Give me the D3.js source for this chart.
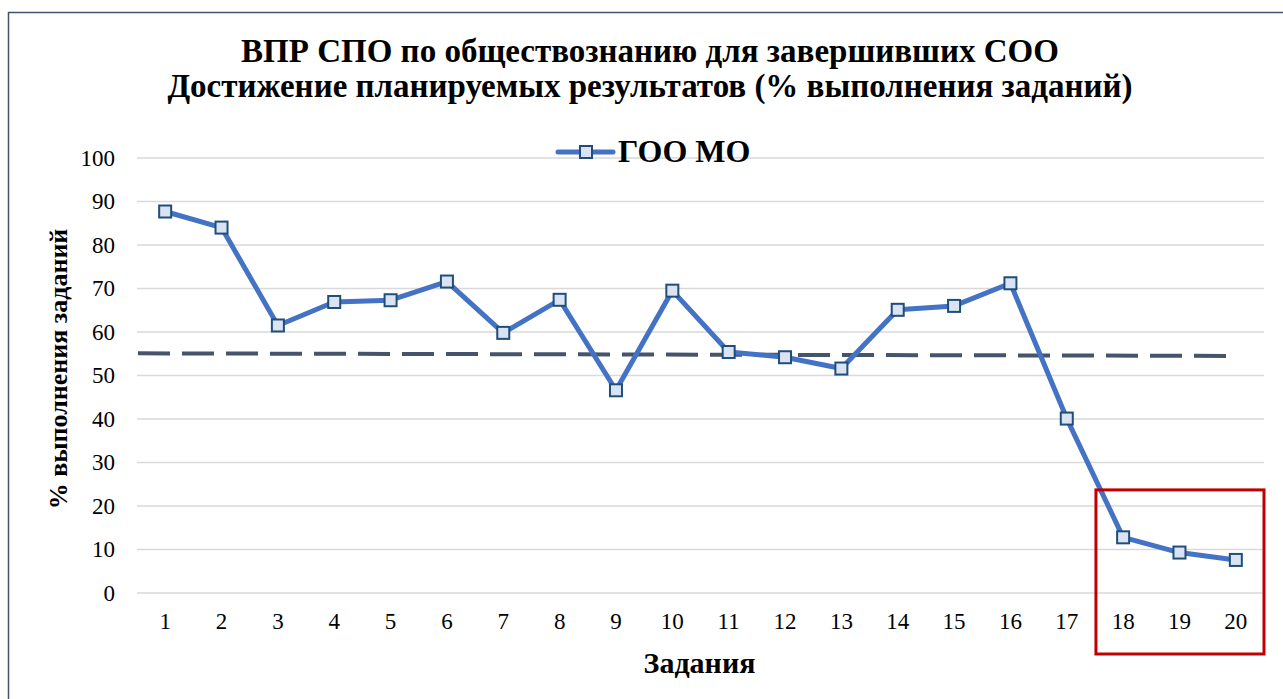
<!DOCTYPE html>
<html>
<head>
<meta charset="utf-8">
<script src="https://cdn.jsdelivr.net/npm/d3@7"></script>
<style>
  body { margin: 0; background: #fff; }
  #chart text { font-family: "Liberation Serif", "Times New Roman", serif !important; }
</style>
</head>
<body>
<svg id="chart" width="1283" height="699"></svg>
<script>
var tasks = ['1','2','3','4','5','6','7','8','9','10','11','12','13','14','15','16','17','18','19','20'];
var gooMo = [87.7, 84.0, 61.5, 66.9, 67.3, 71.6, 59.8, 67.4, 46.6, 69.5, 55.4, 54.2, 51.6, 65.1, 66.0, 71.2, 40.1, 12.8, 9.3, 7.6];
var avgLine = [55.1, 54.5];            // dashed line: left edge -> last task
var yTicks = [0, 10, 20, 30, 40, 50, 60, 70, 80, 90, 100];
var highlight = ['18', '20'];          // red box
var highlightTop = 23.7;

var FONT = "Liberation Serif, Times New Roman, serif";

var W = 1283, H = 699;
var margin = {top: 158, right: 19, bottom: 106, left: 137};
var width = W - margin.left - margin.right;
var height = H - margin.top - margin.bottom;

var svg = d3.select("#chart");

// outer frame
svg.append("rect")
    .attr("x", 8.5).attr("y", 12.5)
    .attr("width", W + 20).attr("height", H + 20)
    .attr("fill", "none")
    .attr("stroke", "#44546a")
    .attr("stroke-width", 1.5);

function label(sel, size, bold) {
  sel.attr("font-family", FONT)
     .attr("font-size", size)
     .attr("font-weight", bold ? "bold" : null)
     .attr("fill", "#000")
     .style("font-family", "'Liberation Serif', 'Times New Roman', serif", "important");
  return sel;
}

label(svg.append("text"), 33, true)
    .attr("x", 650).attr("y", 62)
    .attr("text-anchor", "middle")
    .text("ВПР СПО по обществознанию для завершивших СОО");
label(svg.append("text"), 33, true)
    .attr("x", 650).attr("y", 97)
    .attr("text-anchor", "middle")
    .text("Достижение планируемых результатов (% выполнения заданий)");

var g = svg.append("g")
    .attr("transform", "translate(" + margin.left + "," + margin.top + ")");

var x = d3.scaleBand().domain(tasks).range([0, width]);
var y = d3.scaleLinear().domain([0, 100]).range([height, 0]);

// gridlines
g.append("g")
    .selectAll("line")
    .data(yTicks)
  .enter().append("line")
    .attr("x1", 0).attr("x2", width)
    .attr("y1", function(d) { return y(d); })
    .attr("y2", function(d) { return y(d); })
    .attr("stroke", "#d9d9d9")
    .attr("stroke-width", 1.5);

// y axis labels
var yAxis = g.append("g")
    .call(d3.axisLeft(y).tickValues(yTicks).tickSize(0).tickPadding(22));
yAxis.attr("font-family", FONT).attr("font-size", 23);
yAxis.select(".domain").remove();
yAxis.selectAll("text").call(label, 23, false);

// x axis labels
var xAxis = g.append("g")
    .attr("transform", "translate(0," + height + ")")
    .call(d3.axisBottom(x).tickSize(0).tickPadding(20));
xAxis.attr("font-family", FONT).attr("font-size", 23);
xAxis.select(".domain").remove();
xAxis.selectAll("text").call(label, 23, false);

// axis titles
label(svg.append("text"), 26, true)
    .attr("transform", "translate(67," + (margin.top + y(51.5)) + ") rotate(-90)")
    .attr("text-anchor", "middle")
    .text("% выполнения заданий");
label(svg.append("text"), 30, true)
    .attr("x", margin.left + width / 2 - 1).attr("y", 673)
    .attr("text-anchor", "middle")
    .text("Задания");

// dashed average line
g.append("line")
    .attr("x1", 1)
    .attr("x2", x(tasks[tasks.length - 1]) + x.bandwidth() / 2 + 2)
    .attr("y1", y(avgLine[0]))
    .attr("y2", y(avgLine[1]))
    .attr("stroke", "#44546a")
    .attr("stroke-width", 4)
    .attr("stroke-dasharray", "32,12");

// series
var line = d3.line()
    .x(function(d, i) { return x(tasks[i]) + x.bandwidth() / 2; })
    .y(function(d) { return y(d); });

g.append("path")
    .datum(gooMo)
    .attr("d", line)
    .attr("fill", "none")
    .attr("stroke", "#4472c4")
    .attr("stroke-width", 5)
    .attr("stroke-linejoin", "round");

var ms = 12;
g.selectAll(".marker")
    .data(gooMo)
  .enter().append("rect")
    .attr("class", "marker")
    .attr("x", function(d, i) { return x(tasks[i]) + x.bandwidth() / 2 - ms / 2; })
    .attr("y", function(d) { return y(d) - ms / 2; })
    .attr("width", ms).attr("height", ms)
    .attr("fill", "#dae3f3")
    .attr("stroke", "#1f4e79")
    .attr("stroke-width", 2);

// legend
var lg = svg.append("g").attr("transform", "translate(558,152)");
lg.append("line")
    .attr("x1", 0).attr("x2", 55).attr("y1", 0).attr("y2", 0)
    .attr("stroke", "#4472c4").attr("stroke-width", 5).attr("stroke-linecap", "round");
lg.append("rect")
    .attr("x", 28 - ms / 2).attr("y", -ms / 2).attr("width", ms).attr("height", ms)
    .attr("fill", "#dae3f3").attr("stroke", "#1f4e79").attr("stroke-width", 2);
label(lg.append("text"), 32, true)
    .attr("x", 60).attr("y", 10)
    .text("ГОО МО");

// red highlight box
g.append("rect")
    .attr("x", x(highlight[0]) + 1)
    .attr("y", y(highlightTop))
    .attr("width", x(highlight[1]) + x.bandwidth() - x(highlight[0]) - 1)
    .attr("height", height + 61 - y(highlightTop))
    .attr("fill", "none")
    .attr("stroke", "#c00000")
    .attr("stroke-width", 3);
</script>
</body>
</html>
